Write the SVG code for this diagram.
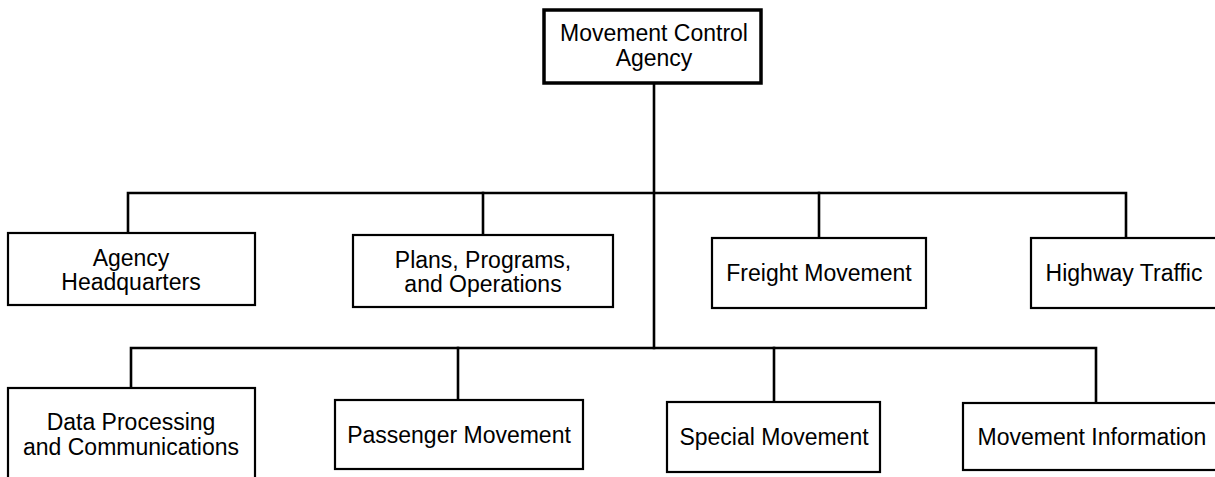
<svg xmlns="http://www.w3.org/2000/svg" width="1215" height="477" viewBox="0 0 1215 477">
  <style>
    .box { fill: #ffffff; stroke: #000000; stroke-width: 2.2; }
    .root { fill: #ffffff; stroke: #000000; stroke-width: 3.5; }
    .wire { fill: none; stroke: #000000; stroke-width: 2.6; stroke-linecap: square; }
    text { font-family: "Liberation Sans", Arial, Helvetica, sans-serif; font-size: 23px; fill: #000000; text-anchor: middle; }
  </style>
  <rect width="1215" height="477" fill="#ffffff"/>

  <!-- connectors -->
  <g id="connectors">
    <path class="wire" d="M654 83 V348"/>
    <path class="wire" d="M128 233 V193 H1126 V238"/>
    <path class="wire" d="M483 193 V235"/>
    <path class="wire" d="M819 193 V238"/>
    <path class="wire" d="M131 388 V348 H1096 V403"/>
    <path class="wire" d="M458 348 V400"/>
    <path class="wire" d="M774 348 V402"/>
  </g>

  <g id="movement-control-agency">
    <rect class="root" x="544" y="10" width="217" height="73"/>
    <text x="654" y="41">Movement Control</text>
    <text x="654" y="66">Agency</text>
  </g>

  <g id="agency-headquarters">
    <rect class="box" x="8" y="233" width="247" height="72"/>
    <text x="131" y="266">Agency</text>
    <text x="131" y="290">Headquarters</text>
  </g>

  <g id="plans-programs-operations">
    <rect class="box" x="353" y="235" width="260" height="72"/>
    <text x="483" y="268">Plans, Programs,</text>
    <text x="483" y="292">and Operations</text>
  </g>

  <g id="freight-movement">
    <rect class="box" x="712" y="238" width="214" height="70"/>
    <text x="819" y="281">Freight Movement</text>
  </g>

  <g id="highway-traffic">
    <rect class="box" x="1031" y="238" width="190" height="70"/>
    <text x="1124" y="281">Highway Traffic</text>
  </g>

  <g id="data-processing-communications">
    <rect class="box" x="8" y="388" width="247" height="95"/>
    <text x="131" y="430">Data Processing</text>
    <text x="131" y="455">and Communications</text>
  </g>

  <g id="passenger-movement">
    <rect class="box" x="335" y="400" width="248" height="69"/>
    <text x="459" y="443">Passenger Movement</text>
  </g>

  <g id="special-movement">
    <rect class="box" x="667" y="402" width="213" height="70"/>
    <text x="774" y="445">Special Movement</text>
  </g>

  <g id="movement-information">
    <rect class="box" x="963" y="403" width="258" height="67"/>
    <text x="1092" y="445">Movement Information</text>
  </g>
</svg>
